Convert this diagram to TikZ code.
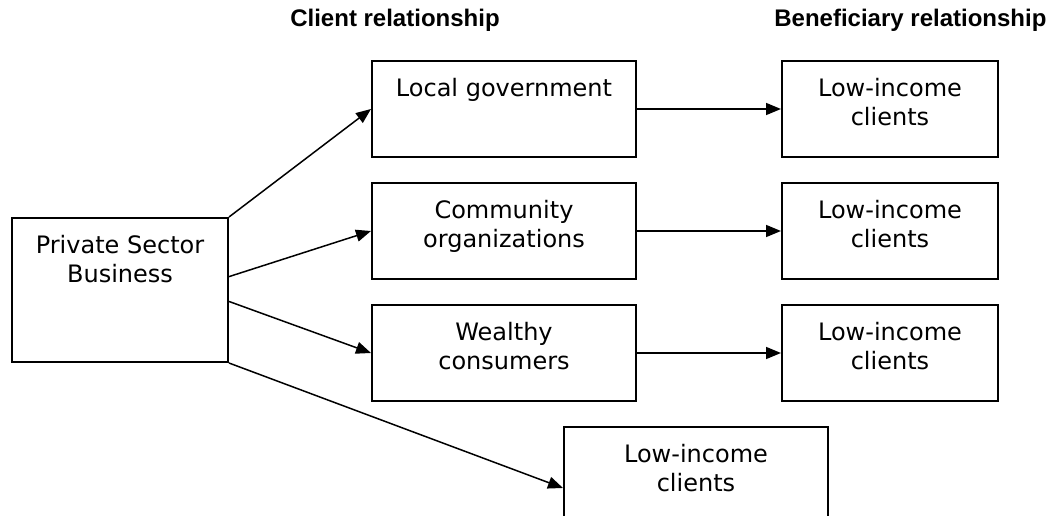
\documentclass[tikz,border=0pt]{standalone}
\usepackage{fontspec}
\setmainfont{DejaVu Sans}
\newfontfamily\headfont{Liberation Sans}
\usepackage{tikz}
\usetikzlibrary{positioning, arrows.meta}

\begin{document}
\begin{tikzpicture}[x=1pt,y=1pt,node distance=24pt and 144pt,
		every node/.style={font=\fontsize{24}{29}\selectfont},
		box/.style={draw,line width=2pt,minimum width=264pt,minimum height=96pt,inner sep=0pt},
		rbox/.style={box,minimum width=216pt},
		txt/.style={anchor=north,yshift=-18pt,inner sep=0pt,align=center},
		head/.style={font=\headfont\bfseries\fontsize{24}{29}\selectfont},
		arr/.style={-{Triangle[length=15pt,width=12pt]},line width=1.5pt}]
	\useasboundingbox (0,0) rectangle (1055,-516);
	% column headings
	\node[head] (client) at (395,-20) {Client relationship};
	\node[head,anchor=east] (benef) at (1050,-20) {Beneficiary relationship};
	% boxes
	\node[box,minimum width=216pt,minimum height=144pt,
		label={[txt]north:Private Sector\\Business}] (psb) at (120,-290) {};
	\node[box,label={[txt]north:Local government}] (gov) at (504,-109) {};
	\node[box,label={[txt]north:Community\\organizations}] (comm) [below=of gov] {};
	\node[box,label={[txt]north:Wealthy\\consumers}] (rich) [below=of comm] {};
	\node[rbox,label={[txt]north:Low-income\\clients}] (low1) [right=of gov] {};
	\node[rbox,label={[txt]north:Low-income\\clients}] (low2) [right=of comm] {};
	\node[rbox,label={[txt]north:Low-income\\clients}] (low3) [right=of rich] {};
	\node[box,minimum height=122pt,label={[txt]north:Low-income\\clients}] (low4)
		[below right=24pt and 192pt of rich.south west] {};
	% connectors
	\path[arr] 	(psb.north east) edge (gov.west)
				(psb.7) edge (comm.west)
				(psb.-6) edge (rich.west)
				(psb.south east) edge (low4.west)
				(gov) edge (low1)
				(comm) edge (low2)
				(rich) edge (low3);
\end{tikzpicture}
\end{document}
